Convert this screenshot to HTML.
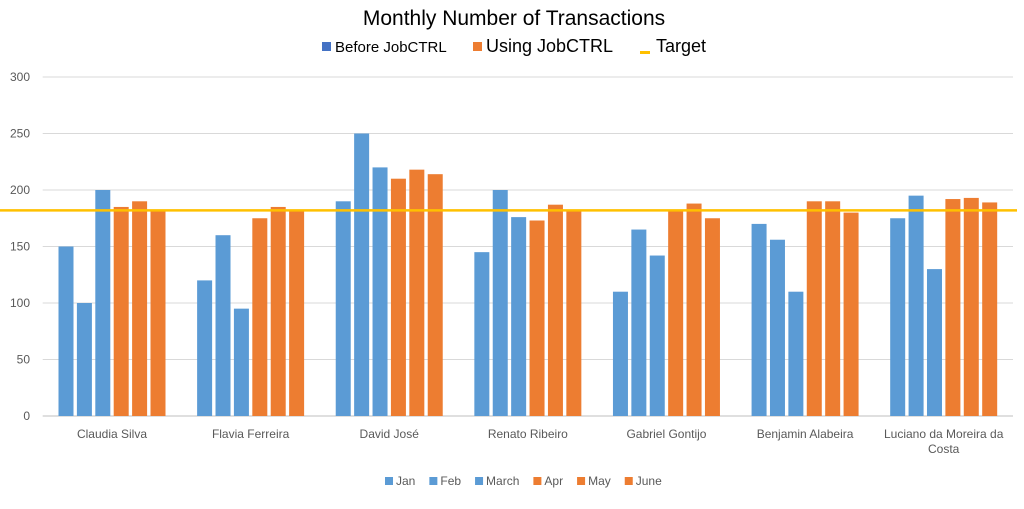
<!DOCTYPE html>
<html><head><meta charset="utf-8"><style>
body{margin:0;background:#fff;font-family:"Liberation Sans",sans-serif}
svg text{font-family:"Liberation Sans",sans-serif}
</style></head><body>
<svg id="c" width="1024" height="504" xmlns="http://www.w3.org/2000/svg">
<rect width="1024" height="504" fill="#fff"/>
<text x="514" y="25" text-anchor="middle" font-size="21" fill="#000">Monthly Number of Transactions</text>
<g font-size="15" fill="#000">
<rect x="322" y="42" width="9" height="9" fill="#4472C4"/>
<text x="335" y="52">Before JobCTRL</text>
<rect x="473" y="42" width="9" height="9" fill="#ED7D31"/>
<text x="486" y="52" font-size="18">Using JobCTRL</text>
<rect x="640" y="51" width="10" height="3" fill="#FFC000"/>
<text x="656" y="52" font-size="18">Target</text>
</g>
<g id="grid"></g><g id="bars"></g><g id="labels"></g>
<g id="botleg" font-size="12" fill="#595959"></g>
</svg>
<script>
const categories=["Claudia Silva","Flavia Ferreira","David José","Renato Ribeiro","Gabriel Gontijo","Benjamin Alabeira","Luciano da Moreira da|Costa"];
const months=["Jan","Feb","March","Apr","May","June"];
const jan=[150,120,190,145,110,170,175];
const feb=[100,160,250,200,165,156,195];
const march=[200,95,220,176,142,110,130];
const apr=[185,175,210,173,182,190,192];
const may=[190,185,218,187,188,190,193];
const june=[182,182,214,182,175,180,189];
const target=182;
const yTicks=[0,50,100,150,200,250,300];
const series=[jan,feb,march,apr,may,june];
const colors=["#5B9BD5","#5B9BD5","#5B9BD5","#ED7D31","#ED7D31","#ED7D31"];
const NS="http://www.w3.org/2000/svg";
const L=42.7,R=1013,Y0=416,Y300=77;
const y=v=>Y0-(v/300)*(Y0-Y300);
const gw=(R-L)/categories.length;
const x=(g,s)=>L+g*gw+15.8+s*18.4;
function mk(t,a,p){const e=document.createElementNS(NS,t);for(const k in a)e.setAttribute(k,a[k]);p.appendChild(e);return e;}
const grid=document.getElementById('grid'),bars=document.getElementById('bars'),labels=document.getElementById('labels'),bl=document.getElementById('botleg');
yTicks.forEach(t=>{
 const l=mk('line',{x1:L,x2:R,y1:y(t),y2:y(t),stroke:t===0?'#bfbfbf':'#d9d9d9','stroke-width':1},grid);
 
 
 const tx=mk('text',{x:30,y:y(t)+4,'text-anchor':'end','font-size':12,fill:'#595959'},grid);
 tx.textContent=t;
 
 
});
series.forEach((s,si)=>s.forEach((v,g)=>{
 const r=mk('rect',{x:x(g,si),y:y(v),width:15,height:Y0-y(v),fill:colors[si]},bars);
 
 
}));
const tl=mk('line',{x1:0,x2:1017,y1:y(target),y2:y(target),stroke:'#FFC000','stroke-width':2.5},bars);


categories.forEach((c,g)=>{
 const parts=c.split('|');
 parts.forEach((p,i)=>{
  const t=mk('text',{x:L+g*gw+gw/2,y:438+i*15,'text-anchor':'middle','font-size':12,fill:'#595959'},labels);
  t.textContent=p;
  
  
 });
});
let bx=385;
months.forEach((m,i)=>{
 const r=mk('rect',{x:bx,y:477,width:8,height:8,fill:colors[i]},bl);
 
 
 const t=mk('text',{x:bx+11,y:485},bl);
 t.textContent=m;
 
 
 bx+=11+t.getComputedTextLength()+14;
});
</script>
</body></html>
